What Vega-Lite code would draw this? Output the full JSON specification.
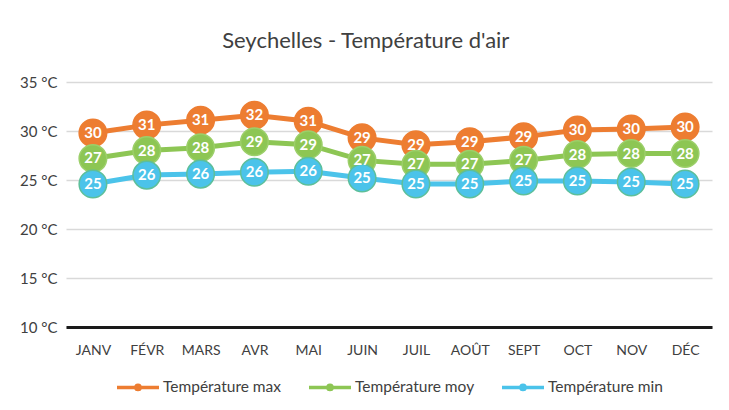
{
  "$schema": "https://vega.github.io/schema/vega-lite/v6.json",
  "width": 729,
  "height": 410,
  "autosize": {"type": "fit", "contains": "padding"},
  "padding": {"left": 19, "right": 17, "top": 30, "bottom": 13},
  "background": "white",
  "title": {
    "text": "Seychelles - Température d'air",
    "fontSize": 22,
    "fontWeight": "normal",
    "font": "Lato",
    "color": "#404040",
    "offset": 22,
    "anchor": "middle",
    "frame": "bounds"
  },
  "data": {
    "values": [
      {"month": "JANV", "series": "Température max", "value": 29.8},
      {"month": "FÉVR", "series": "Température max", "value": 30.6},
      {"month": "MARS", "series": "Température max", "value": 31.1},
      {"month": "AVR", "series": "Température max", "value": 31.6},
      {"month": "MAI", "series": "Température max", "value": 31.0},
      {"month": "JUIN", "series": "Température max", "value": 29.3},
      {"month": "JUIL", "series": "Température max", "value": 28.6},
      {"month": "AOÛT", "series": "Température max", "value": 28.9},
      {"month": "SEPT", "series": "Température max", "value": 29.4},
      {"month": "OCT", "series": "Température max", "value": 30.1},
      {"month": "NOV", "series": "Température max", "value": 30.2},
      {"month": "DÉC", "series": "Température max", "value": 30.4},
      {"month": "JANV", "series": "Température moy", "value": 27.2},
      {"month": "FÉVR", "series": "Température moy", "value": 28.0},
      {"month": "MARS", "series": "Température moy", "value": 28.3},
      {"month": "AVR", "series": "Température moy", "value": 28.9},
      {"month": "MAI", "series": "Température moy", "value": 28.6},
      {"month": "JUIN", "series": "Température moy", "value": 27.0},
      {"month": "JUIL", "series": "Température moy", "value": 26.6},
      {"month": "AOÛT", "series": "Température moy", "value": 26.6},
      {"month": "SEPT", "series": "Température moy", "value": 27.0},
      {"month": "OCT", "series": "Température moy", "value": 27.6},
      {"month": "NOV", "series": "Température moy", "value": 27.7},
      {"month": "DÉC", "series": "Température moy", "value": 27.7},
      {"month": "JANV", "series": "Température min", "value": 24.6},
      {"month": "FÉVR", "series": "Température min", "value": 25.5},
      {"month": "MARS", "series": "Température min", "value": 25.6},
      {"month": "AVR", "series": "Température min", "value": 25.8},
      {"month": "MAI", "series": "Température min", "value": 25.9},
      {"month": "JUIN", "series": "Température min", "value": 25.2},
      {"month": "JUIL", "series": "Température min", "value": 24.6},
      {"month": "AOÛT", "series": "Température min", "value": 24.6},
      {"month": "SEPT", "series": "Température min", "value": 24.9},
      {"month": "OCT", "series": "Température min", "value": 24.9},
      {"month": "NOV", "series": "Température min", "value": 24.8},
      {"month": "DÉC", "series": "Température min", "value": 24.6}
    ]
  },
  "encoding": {
    "x": {
      "field": "month",
      "type": "ordinal",
      "sort": ["JANV", "FÉVR", "MARS", "AVR", "MAI", "JUIN", "JUIL", "AOÛT", "SEPT", "OCT", "NOV", "DÉC"],
      "title": null,
      "axis": {
        "labelAngle": 0,
        "ticks": false,
        "labelPadding": 16,
        "labelFontSize": 14,
        "domainColor": "#1a1a1a",
        "domainWidth": 3,
        "grid": false
      }
    },
    "y": {
      "field": "value",
      "type": "quantitative",
      "scale": {"domain": [10, 35], "nice": false, "zero": false},
      "title": null,
      "axis": {
        "values": [10, 15, 20, 25, 30, 35],
        "labelExpr": "datum.value + ' °C'",
        "ticks": false,
        "domain": false,
        "grid": true,
        "gridColor": "#d9d9d9",
        "gridWidth": 1.5,
        "labelPadding": 9,
        "labelFontSize": 15
      }
    },
    "color": {
      "field": "series",
      "type": "nominal",
      "scale": {
        "domain": ["Température max", "Température moy", "Température min"],
        "range": ["#ED7D31", "#8DC654", "#4BC3EA"]
      },
      "legend": {
        "title": null,
        "orient": "bottom",
        "direction": "horizontal",
        "symbolType": "M-1,0H-0.1A0.1,0.1 0 1 1 0.1,0A0.1,0.1 0 1 1 -0.1,0M0.1,0H1",
        "symbolSize": 1764,
        "symbolStrokeWidth": 3.5,
        "symbolFillColor": "transparent",
        "labelFontSize": 15.5,
        "labelColor": "#404040",
        "labelOffset": 2,
        "columnPadding": 20,
        "offset": 7
      }
    }
  },
  "layer": [
    {
      "mark": {"type": "line", "strokeWidth": 5}
    },
    {
      "mark": {"type": "point", "filled": true, "size": 760, "opacity": 1, "strokeWidth": 1.5},
      "encoding": {
        "stroke": {
          "field": "series",
          "type": "nominal",
          "scale": {
            "domain": ["Température max", "Température moy", "Température min"],
            "range": ["#ED7D31", "#9CCF6A", "#5DBF9A"]
          },
          "legend": null
        }
      }
    },
    {
      "mark": {"type": "text", "color": "white", "fontWeight": "bold", "fontSize": 15, "font": "Lato", "baseline": "middle"},
      "encoding": {
        "text": {"field": "value", "type": "quantitative", "format": ".0f"},
        "color": {"value": "white"}
      }
    }
  ],
  "config": {
    "font": "Lato",
    "view": {"stroke": null},
    "axis": {"labelFont": "Lato", "labelColor": "#404040"},
    "legend": {"labelFont": "Lato", "layout": {"bottom": {"anchor": "middle"}}}
  }
}
